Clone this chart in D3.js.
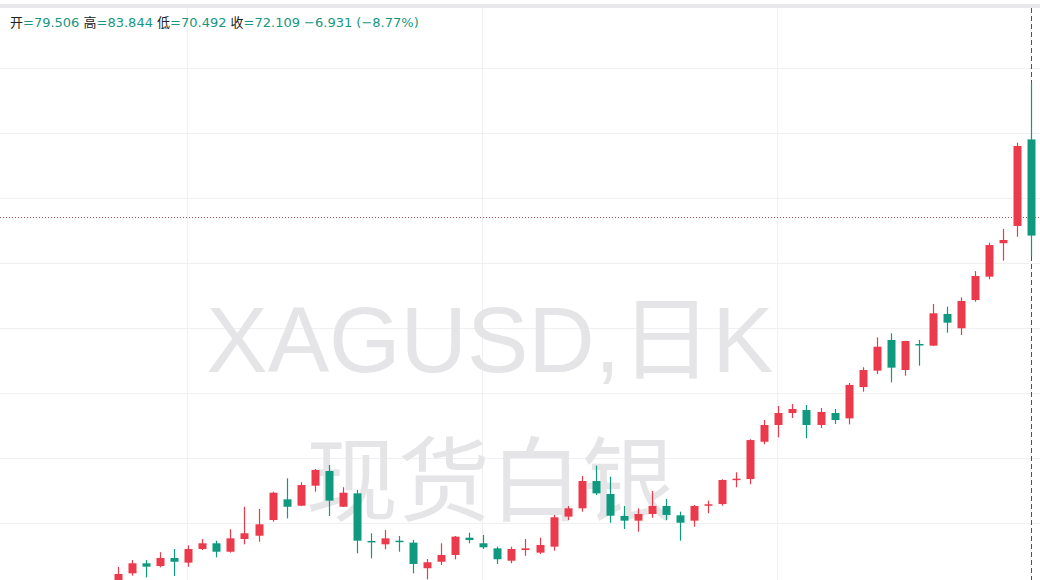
<!DOCTYPE html>
<html>
<head>
<meta charset="utf-8">
<script src="https://cdn.jsdelivr.net/npm/d3@7/dist/d3.min.js"></script>
<style>
  html, body { margin: 0; padding: 0; background: #ffffff; }
  svg { display: block; }
</style>
</head>
<body>
<svg id="chart" width="1040" height="580"></svg>
<script>
// ---- data ----
const days = d3.range(1, 67);
const open  = [45.2, 46.13, 46.90, 46.69, 47.31, 46.95, 48.00, 48.44, 47.79, 48.77, 49.02, 50.23, 51.82, 51.33, 52.87, 54.00, 51.25,
               52.28, 48.62, 48.36, 48.64, 48.49, 46.52, 47.02, 47.54, 48.87, 48.44, 48.05, 47.10, 47.92, 47.72, 48.18, 50.49,
               51.13, 53.23, 52.23, 50.54, 50.18, 50.69, 51.31, 50.59, 50.18, 51.33, 51.46, 53.31, 53.38, 56.25, 57.54, 58.46,
               58.69, 57.54, 58.46, 58.05, 60.46, 61.72, 64.08, 61.77, 63.77, 63.64, 66.08, 64.98, 67.15, 68.95, 71.52, 72.85, 79.506];
const high  = [46.62, 47.15, 47.15, 47.75, 48.00, 48.28, 48.77, 48.64, 49.52, 51.25, 51.08, 52.41, 53.44, 53.13, 54.15, 54.46, 52.75,
               52.54, 49.21, 49.46, 49.00, 48.69, 47.23, 48.44, 49.00, 49.25, 49.08, 48.18, 48.18, 48.77, 48.87, 50.62, 51.31,
               53.62, 54.41, 53.56, 51.31, 51.13, 52.46, 51.85, 50.87, 51.38, 51.72, 53.36, 53.90, 56.44, 57.92, 59.00, 59.15,
               59.08, 58.85, 58.77, 60.77, 61.98, 64.28, 64.59, 64.02, 64.08, 66.85, 66.64, 67.36, 69.38, 71.56, 72.62, 79.25, 83.844];
const low   = [44.80, 45.95, 45.82, 46.59, 45.92, 46.64, 47.92, 47.36, 47.72, 48.36, 48.56, 50.10, 50.36, 51.31, 52.41, 50.54, 51.23,
               47.67, 47.28, 47.98, 47.79, 46.13, 45.67, 46.77, 47.21, 48.44, 48.00, 46.85, 46.90, 47.48, 47.62, 47.87, 50.23,
               50.87, 52.15, 50.02, 49.54, 49.33, 50.41, 50.23, 48.64, 49.72, 50.75, 51.33, 52.75, 52.98, 56.05, 56.59, 58.08,
               56.52, 57.31, 57.62, 57.59, 60.10, 61.46, 60.82, 61.33, 62.10, 63.62, 64.64, 64.46, 67.02, 68.75, 70.18, 72.02, 70.492];
const close = [46.08, 46.90, 46.64, 47.31, 47.02, 48.00, 48.44, 47.79, 48.82, 49.21, 49.90, 52.33, 51.25, 52.92, 54.08, 51.72, 52.33,
               48.64, 48.52, 48.82, 48.56, 46.85, 46.98, 47.54, 48.95, 48.69, 48.13, 47.21, 48.00, 48.05, 48.31, 50.44, 51.13,
               53.23, 52.28, 50.56, 50.18, 50.69, 51.31, 50.62, 50.02, 51.31, 51.44, 53.31, 53.41, 56.38, 57.54, 58.46, 58.77,
               57.54, 58.54, 57.92, 60.62, 61.77, 63.56, 61.95, 64.00, 63.69, 66.13, 65.41, 67.08, 69.00, 71.38, 71.77, 79.00, 72.109];
const priceTicks = [50, 55, 60, 65, 70, 75, 80, 85];
const markPrice = 73.54;
const header = [
  {label: "开", value: "=79.506"},
  {label: " 高", value: "=83.844"},
  {label: " 低", value: "=70.492"},
  {label: " 收", value: "=72.109 −6.931 (−8.77%)"}
];
const watermark1 = "XAGUSD,日K";
const watermark2 = "现货白银";

// ---- setup ----
const W = 1040, H = 580;
const UP = "#eb3a4b", DOWN = "#0f9a80";
const svg = d3.select("#chart");

const x = d3.scaleBand().domain(days).range([111, 1038.3]).padding(0);
const y = d3.scaleLinear().domain([45, 85]).range([588, 68]);
const bodyW = 8;
const cx = d => x(d) + x.bandwidth() / 2;

// top band
svg.append("rect").attr("x", 0).attr("y", 4).attr("width", W).attr("height", 4).attr("fill", "#e8e8ec");

// grid
const grid = svg.append("g");
grid.selectAll("line.h").data(priceTicks).join("line")
  .attr("x1", 0).attr("x2", W)
  .attr("y1", d => Math.round(y(d)) + 0.5).attr("y2", d => Math.round(y(d)) + 0.5)
  .attr("stroke", "#f0f0f2").attr("stroke-width", 1);
const vTicks = [days[5], days[26], days[47]];
grid.selectAll("line.v").data(vTicks).join("line")
  .attr("x1", d => Math.round(cx(d) - 1) + 0.5).attr("x2", d => Math.round(cx(d) - 1) + 0.5)
  .attr("y1", 8).attr("y2", H)
  .attr("stroke", "#f0f0f2").attr("stroke-width", 1);

// watermark
svg.append("text").text(watermark1)
  .attr("x", 490).attr("y", 372).attr("text-anchor", "middle")
  .attr("font-family", "'Liberation Sans', 'Noto Sans CJK SC', sans-serif")
  .attr("font-size", 92).attr("fill", "#e5e5e8");
svg.append("text").text(watermark2)
  .attr("x", 490).attr("y", 514).attr("text-anchor", "middle")
  .attr("font-family", "'Noto Sans CJK SC', sans-serif")
  .attr("font-size", 92).attr("fill", "#e5e5e8");

// price mark dotted line
svg.append("line")
  .attr("x1", 0).attr("x2", W)
  .attr("y1", Math.round(y(markPrice)) + 0.5).attr("y2", Math.round(y(markPrice)) + 0.5)
  .attr("stroke", "#a8505a").attr("stroke-width", 1).attr("stroke-dasharray", "1,2");

// crosshair
svg.append("line")
  .attr("x1", Math.round(cx(days[days.length - 1])) + 0.5).attr("x2", Math.round(cx(days[days.length - 1])) + 0.5)
  .attr("y1", 8).attr("y2", H)
  .attr("stroke", "#505050").attr("stroke-width", 1).attr("stroke-dasharray", "5,3");

// candles
const data = days.map((d, i) => ({d, o: open[i], h: high[i], l: low[i], c: close[i]}));
const g = svg.append("g");
const cand = g.selectAll("g.c").data(data).join("g");
cand.append("line")
  .attr("x1", d => Math.round(cx(d.d)) + 0.5).attr("x2", d => Math.round(cx(d.d)) + 0.5)
  .attr("y1", d => y(d.h)).attr("y2", d => y(d.l))
  .attr("stroke", d => d.c >= d.o ? UP : DOWN).attr("stroke-width", 1.2);
cand.append("rect")
  .attr("x", d => Math.round(cx(d.d)) + 0.5 - bodyW / 2)
  .attr("width", bodyW)
  .attr("y", d => y(Math.max(d.o, d.c)))
  .attr("height", d => Math.max(1.5, Math.abs(y(d.o) - y(d.c))))
  .attr("fill", d => d.c >= d.o ? UP : DOWN);

// header
const ht = svg.append("text").attr("x", 10).attr("y", 27)
  .attr("font-family", "'DejaVu Sans', 'Noto Sans CJK SC', sans-serif")
  .attr("font-size", 13).attr("xml:space", "preserve").style("white-space", "pre");
header.forEach(h => {
  ht.append("tspan").text(h.label).attr("fill", "#222");
  ht.append("tspan").text(h.value).attr("fill", "#16977f");
});
</script>
</body>
</html>
